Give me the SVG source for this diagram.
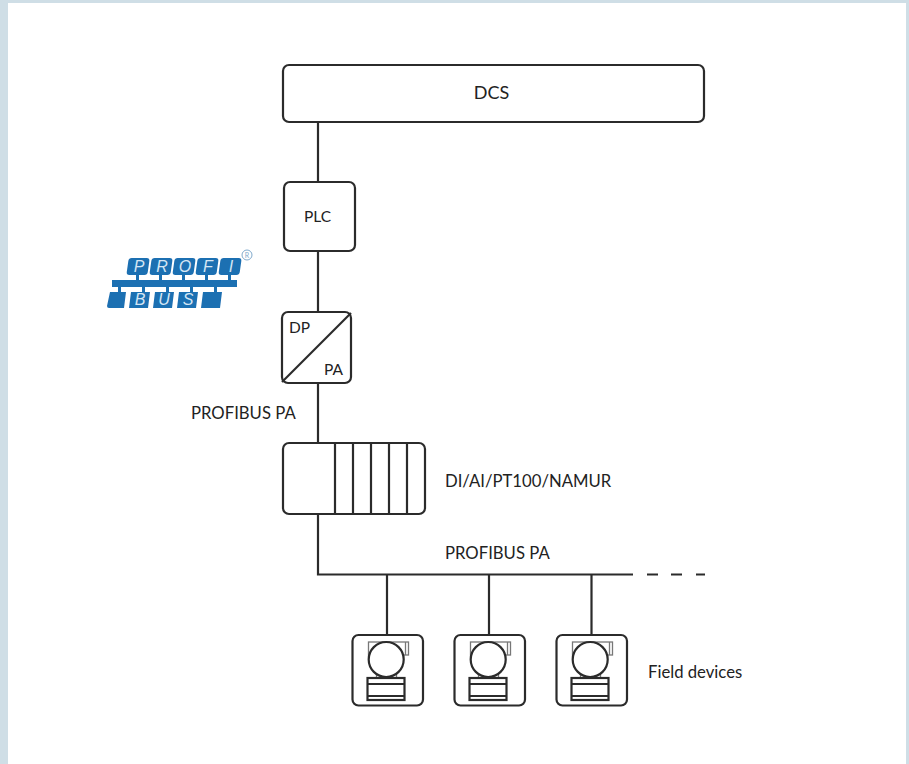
<svg xmlns="http://www.w3.org/2000/svg" width="909" height="764" viewBox="0 0 909 764">
<style>
.b{fill:#fff;stroke:#2b2b2b;stroke-width:2.2}
.l{fill:none;stroke:#2b2b2b;stroke-width:2.2}
.g{fill:none;stroke:#777;stroke-width:1.3}
text{font-family:"Lato","Liberation Sans",sans-serif;font-size:16.7px;fill:#222}
.s{font-size:15.5px}
.w{font-family:"Liberation Sans",sans-serif;font-style:italic;font-size:16px;fill:#d5e6f4;text-anchor:middle}
</style>
<defs>
<filter id="soft" x="-5%" y="-5%" width="110%" height="110%"><feGaussianBlur stdDeviation="0.5"/></filter>
<g id="dev">
<rect class="b" x="0" y="0" width="70.500" height="70.500" rx="6"/>
<rect class="g" x="16" y="7" width="40" height="13"/>
<path class="g" d="M53 7V20"/>
<path class="g" d="M24 38V43M44 38V43"/>
<circle class="b" cx="33.700" cy="24.500" r="17.500"/>
<rect class="b" x="15" y="43" width="37" height="22"/>
<path class="l" d="M15 49H52M15 61H52"/>
</g>
</defs>
<rect width="909" height="764" fill="#cfdee6"/>
<rect x="8" y="3" width="898" height="761" fill="#fff"/>
<g id="connectors">
<path class="l" d="M318 122V182M318 251V312M318 383V443M318 514V574.500H633"/>
<path class="l" d="M647 574.500H658M671 574.500H682M696 574.500H705"/>
<path class="l" d="M387 574.500V635M489 574.500V635M591.500 574.500V635"/>
</g>
<g id="dcs"><rect class="b" x="283" y="65" width="421" height="57" rx="6"/><text x="491.500" y="99" text-anchor="middle" style="font-size:18px">DCS</text></g>
<g id="plc"><rect class="b" x="284" y="182" width="71" height="69" rx="6"/><text class="s" x="317.500" y="222" text-anchor="middle">PLC</text></g>
<g id="logo">
<g filter="url(#soft)" fill="#1f6fb2">
<g transform="translate(37 0) skewX(-8)">
<rect x="128" y="258" width="21" height="17" rx="3"/>
<rect x="151" y="258" width="21" height="17" rx="3"/>
<rect x="174" y="258" width="21" height="17" rx="3"/>
<rect x="197" y="258" width="21" height="17" rx="3"/>
<rect x="220" y="258" width="21" height="17" rx="3"/>
</g>
<rect x="112" y="280" width="125" height="7"/>
<path d="M136 274h3v7h-3zM159 274h3v7h-3zM182 274h3v7h-3zM205 274h3v7h-3zM228 274h3v7h-3zM118 286h3v7h-3zM142 286h3v7h-3zM166 286h3v7h-3zM190 286h3v7h-3zM214 286h3v7h-3z"/>
<path d="M110 292h16l-2 16h-15a2 2 0 0 1-2-2zM131 292h19l-2 16h-19zM155 292h19l-2 16h-19zM179 292h19l-2 16h-19zM203 292h19l-2 16h-19z"/>
</g>
<text class="w" x="139" y="272">P</text><text class="w" x="162" y="272">R</text><text class="w" x="185" y="272">O</text><text class="w" x="208" y="272">F</text><text class="w" x="231" y="272">I</text>
<text class="w" x="140" y="305">B</text><text class="w" x="164" y="305">U</text><text class="w" x="188" y="305">S</text>
<circle cx="247" cy="255" r="5" fill="none" stroke="#7fa9cc"/><text x="247" y="258" text-anchor="middle" style="font-size:7px;fill:#7fa9cc">R</text>
</g>
<g id="dppa"><rect class="b" x="282" y="312" width="69" height="71" rx="6"/><path class="l" d="M282 382L351 313"/><text class="s" x="289" y="333">DP</text><text class="s" x="324" y="375">PA</text></g>
<text x="191" y="419">PROFIBUS PA</text>
<g id="io"><rect class="b" x="283" y="443" width="142" height="71" rx="6"/><path class="l" d="M335 443V514M353 443V514M371 443V514M389 443V514M407 443V514"/></g>
<text x="445" y="487">DI/AI/PT100/NAMUR</text>
<text x="445" y="559">PROFIBUS PA</text>
<use id="dev1" href="#dev" x="352.500" y="635"/>
<use id="dev2" href="#dev" x="454.500" y="635"/>
<use id="dev3" href="#dev" x="556.500" y="635"/>
<text x="648" y="678">Field devices</text>
</svg>
